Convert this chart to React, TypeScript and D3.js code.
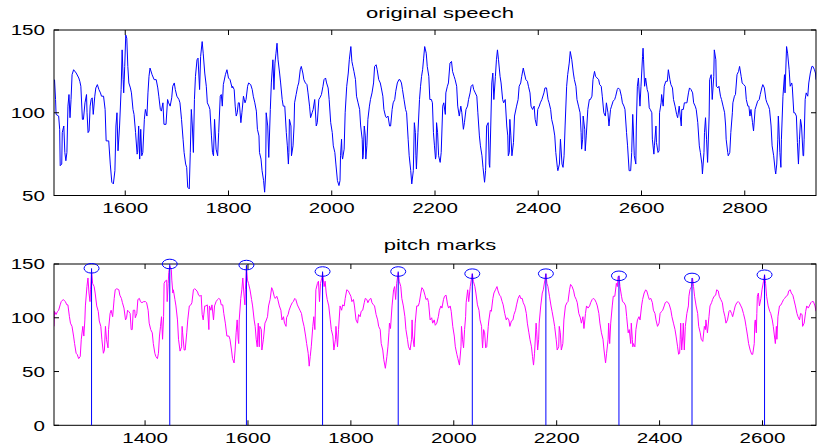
import React from 'react';
import * as d3 from 'd3';

// top panel: original speech (sample index, amplitude)
const speechT = [
  1463, 1465, 1466, 1471, 1473, 1474, 1477, 1478, 1481, 1483, 1485, 1487, 1489, 1491, 1493, 1495, 1497, 1500, 1505, 1510,
  1512, 1514, 1517, 1519, 1522, 1525, 1526, 1528, 1530, 1532, 1534, 1536, 1538, 1541, 1543, 1546, 1549, 1552, 1554, 1558,
  1561, 1563, 1568, 1571, 1574, 1577, 1580, 1582, 1584, 1586, 1589, 1592, 1594, 1596, 1597, 1599, 1601, 1603, 1605, 1607,
  1610, 1612, 1615, 1617, 1620, 1623, 1624, 1626, 1628, 1630, 1632, 1634, 1637, 1639, 1642, 1644, 1646, 1648, 1652, 1656,
  1660, 1663, 1665, 1668, 1670, 1673, 1675, 1679, 1682, 1684, 1687, 1690, 1692, 1695, 1697, 1700, 1704, 1706, 1709, 1712,
  1714, 1717, 1719, 1721, 1724, 1726, 1728, 1730, 1732, 1734, 1736, 1739, 1741, 1744, 1746, 1749, 1751, 1754, 1757, 1759,
  1762, 1764, 1767, 1769, 1771, 1773, 1776, 1779, 1781, 1784, 1786, 1788, 1790, 1794, 1797, 1800,
  1803, 1807, 1808, 1811, 1813, 1815, 1817, 1819, 1821, 1824, 1826, 1829, 1832, 1834, 1837, 1839, 1843, 1846, 1848, 1851,
  1854, 1856, 1859, 1860, 1863, 1865, 1868, 1870, 1872, 1873, 1876, 1878, 1881, 1883, 1886, 1887, 1888, 1890, 1892, 1894,
  1896, 1899, 1901, 1904, 1906, 1909, 1912, 1914, 1916, 1917, 1918, 1921, 1922, 1925, 1927, 1928, 1931, 1934, 1936, 1939,
  1941, 1944, 1946, 1949, 1952, 1954, 1957, 1959, 1962, 1964, 1967, 1970, 1972, 1975, 1977, 1980, 1983, 1985, 1988, 1990,
  1993, 1995, 1998, 2001, 2003, 2006, 2008, 2011, 2014, 2016, 2017, 2019, 2020, 2021, 2024, 2026, 2029, 2032, 2034, 2037,
  2039, 2041, 2043, 2046, 2048, 2051, 2054, 2056, 2059, 2060, 2061, 2063, 2065, 2066, 2068, 2070, 2073, 2075, 2078, 2081,
  2083, 2086, 2088, 2091, 2094, 2096, 2099, 2101, 2104, 2106, 2109, 2112, 2114, 2117, 2119, 2122, 2124, 2127, 2130, 2132,
  2135, 2137, 2140, 2143, 2145, 2148, 2150, 2153, 2155, 2158, 2160, 2162, 2163, 2164, 2167, 2170, 2172, 2174, 2176, 2178,
  2180, 2183, 2185, 2188,
  2190, 2193, 2195, 2197, 2199, 2201, 2202, 2203, 2205, 2207, 2210, 2212, 2215, 2217, 2220, 2221, 2224, 2226, 2229, 2232,
  2234, 2237, 2239, 2242, 2244, 2247, 2250, 2252, 2255, 2257, 2260, 2263, 2265, 2268, 2270, 2273, 2275, 2278, 2281, 2283,
  2286, 2288, 2291, 2293, 2296, 2298, 2300, 2303, 2305, 2306, 2308, 2310, 2312, 2314, 2317, 2319, 2321, 2323, 2326, 2328,
  2331, 2333, 2336, 2339, 2341, 2342, 2344, 2345, 2347, 2349, 2352, 2354, 2358, 2361, 2363, 2366, 2368, 2371, 2373, 2376,
  2379, 2381, 2384, 2386, 2389, 2392, 2394, 2397, 2399, 2402, 2404, 2407, 2411, 2413, 2416, 2419, 2421, 2424, 2426, 2429,
  2432, 2434, 2437, 2438, 2441, 2443, 2446, 2448, 2450, 2452, 2455, 2457, 2460, 2462, 2465, 2468, 2470, 2473, 2475, 2478,
  2481, 2483, 2484, 2486, 2487, 2490, 2491, 2493, 2496, 2499, 2501, 2504, 2506, 2509, 2511, 2514, 2517, 2519, 2522, 2524,
  2527, 2530, 2532, 2535, 2537, 2540, 2542, 2545, 2548, 2550, 2553, 2555, 2558, 2561, 2563, 2566, 2568, 2571, 2573, 2576,
  2579, 2581, 2583, 2584, 2586, 2589, 2590, 2592, 2594, 2597, 2599, 2602, 2603, 2604, 2606, 2608, 2611, 2613, 2615, 2617,
  2620, 2621, 2624, 2625, 2628, 2629, 2632, 2634, 2635, 2638, 2639, 2642, 2644, 2647, 2650, 2652, 2655, 2657, 2660, 2662,
  2665, 2668, 2670, 2673, 2675, 2677, 2678, 2681, 2683, 2686, 2688, 2691, 2693, 2696, 2699, 2701, 2704, 2706, 2709, 2712,
  2714, 2717, 2718, 2721, 2722, 2724, 2726, 2728, 2731, 2732, 2735, 2737, 2740, 2741, 2744, 2745, 2748, 2750, 2753, 2755,
  2758, 2761, 2763, 2764, 2767, 2768, 2771, 2773, 2776, 2777, 2780, 2782, 2785, 2788, 2790, 2793, 2795, 2798, 2801, 2803,
  2806, 2808, 2810, 2812, 2815, 2817, 2820, 2822, 2825, 2828, 2830, 2833, 2835, 2838, 2841, 2843, 2846, 2848, 2851, 2853,
  2856, 2859, 2860, 2862, 2864, 2865, 2866, 2868, 2870, 2871, 2874, 2877, 2878, 2881, 2883, 2886, 2888, 2891, 2892, 2895,
  2897, 2900, 2902, 2904, 2906, 2908, 2910, 2913, 2914, 2915, 2917, 2919, 2922, 2924, 2927, 2930, 2932, 2935, 2937, 2938,
];
const speechV = [
  120, 108, 99, 98, 90, 68, 69, 88, 92, 76, 71, 76, 104, 111, 97, 108, 123, 126, 124, 121,
  119, 116, 96, 96, 106, 111, 100, 88, 89, 104, 108, 109, 99, 110, 115, 117, 114, 112, 110, 110,
  102, 83, 83, 69, 58, 57, 65, 92, 100, 77, 92, 114, 138, 120, 112, 128, 147, 145, 128, 118,
  115, 112, 102, 99, 88, 75, 76, 92, 72, 90, 74, 76, 96, 102, 98, 112, 122, 127, 123, 120,
  120, 115, 110, 102, 101, 106, 93, 93, 108, 106, 104, 109, 116, 118, 114, 110, 108, 106, 96, 84,
  76, 69, 67, 55, 54, 76, 102, 92, 76, 108, 122, 132, 133, 114, 134, 143, 136, 124, 116, 106,
  104, 102, 86, 76, 74, 96, 78, 74, 88, 110, 111, 104, 117, 123, 126, 121,
  120, 115, 116, 114, 104, 98, 100, 106, 106, 94, 100, 110, 106, 108, 116, 118, 117, 114, 110, 106,
  101, 90, 86, 76, 72, 65, 59, 52, 63, 100, 92, 73, 102, 118, 132, 124, 114, 130, 136, 142,
  132, 124, 118, 108, 104, 104, 88, 80, 69, 76, 96, 92, 74, 80, 92, 106, 111, 116, 118, 126,
  128, 124, 120, 118, 117, 112, 104, 97, 100, 102, 108, 92, 94, 108, 109, 111, 116, 120, 121, 118,
  115, 108, 94, 88, 80, 76, 69, 59, 56, 59, 74, 84, 74, 72, 78, 100, 116, 124, 132, 140,
  131, 128, 125, 120, 110, 106, 102, 92, 84, 72, 74, 92, 86, 72, 80, 96, 104, 108, 112, 118,
  128, 129, 126, 120, 118, 115, 110, 102, 98, 97, 98, 92, 92, 102, 106, 108, 113, 118, 120, 120,
  118, 114, 108, 102, 100, 84, 74, 65, 57, 65, 94, 88, 74, 66, 88, 108, 116, 122, 126, 133,
  140, 136, 128, 122,
  108, 108, 106, 88, 80, 72, 74, 94, 88, 74, 70, 76, 104, 106, 99, 112, 116, 118, 130, 131,
  125, 122, 120, 116, 104, 98, 104, 100, 90, 94, 102, 104, 108, 112, 116, 117, 114, 112, 110, 100,
  86, 80, 74, 67, 58, 65, 92, 94, 69, 67, 92, 118, 124, 108, 122, 132, 138, 132, 122, 118,
  108, 106, 108, 92, 86, 74, 76, 96, 86, 74, 82, 98, 104, 108, 116, 118, 122, 127, 124, 120,
  119, 116, 112, 104, 102, 104, 96, 92, 102, 104, 106, 108, 112, 115, 115, 108, 106, 102, 96, 92,
  86, 76, 67, 65, 69, 84, 69, 67, 74, 92, 116, 123, 130, 137, 132, 124, 120, 116, 108, 104,
  100, 88, 78, 84, 98, 90, 77, 86, 102, 108, 108, 110, 120, 125, 122, 121, 120, 117, 116, 110,
  100, 98, 106, 100, 92, 102, 104, 107, 108, 110, 114, 115, 114, 110, 106, 104, 102, 88, 80, 65,
  65, 76, 99, 92, 74, 69, 92, 116, 121, 104, 116, 134, 139, 132, 116, 121, 114, 112, 103, 102,
  100, 84, 75, 80, 92, 82, 76, 77, 100, 106, 111, 104, 116, 119, 119, 126, 120, 117, 115, 108,
  104, 99, 97, 104, 98, 92, 102, 102, 106, 106, 106, 112, 115, 114, 112, 106, 104, 102, 94, 80,
  76, 69, 63, 76, 88, 97, 84, 70, 98, 120, 123, 108, 122, 138, 132, 116, 115, 116, 110, 108,
  104, 100, 92, 84, 76, 74, 76, 88, 100, 106, 110, 111, 123, 125, 128, 122, 118, 117, 116, 108,
  104, 104, 98, 102, 94, 89, 102, 104, 107, 108, 111, 115, 117, 115, 108, 106, 104, 102, 92, 80,
  74, 65, 63, 69, 84, 98, 92, 76, 67, 84, 110, 123, 112, 140, 136, 126, 116, 118, 116, 100,
  100, 98, 82, 69, 84, 96, 92, 74, 74, 84, 108, 112, 110, 118, 124, 128, 128, 126, 124, 120,
];

// bottom panel: pitch marks signal
const pitchT = [
  1223, 1224, 1227, 1230, 1232, 1235, 1237, 1241, 1245, 1248, 1250, 1253, 1255, 1258, 1261, 1263, 1266, 1268, 1271, 1274,
  1276, 1279, 1281, 1283, 1284, 1287, 1289, 1291, 1293, 1294, 1296, 1298, 1301, 1303, 1306, 1309, 1311, 1314, 1316, 1319,
  1321, 1323, 1325, 1328, 1329, 1332, 1334, 1337, 1340, 1342, 1345, 1349, 1351, 1354, 1356, 1359, 1362, 1364, 1366, 1368,
  1371, 1373, 1375, 1377, 1380, 1381, 1384, 1386, 1389, 1391, 1394, 1397, 1401, 1403, 1406, 1408, 1411, 1414, 1416, 1419,
  1421, 1424, 1426, 1428, 1430, 1432, 1434, 1436, 1437, 1439, 1442, 1443, 1445, 1446, 1448, 1451, 1452, 1454, 1455, 1458,
  1460, 1463, 1465, 1468, 1471, 1472, 1473, 1476, 1478, 1481, 1483, 1486, 1489, 1491, 1494, 1496, 1499, 1502, 1504, 1507,
  1509, 1511, 1513, 1516, 1518, 1521, 1524, 1525, 1528, 1530, 1533, 1535, 1538, 1541, 1543, 1546, 1548, 1551, 1553, 1556,
  1559, 1563,
  1565, 1568, 1570, 1573, 1575, 1577, 1579, 1581, 1582, 1583, 1586, 1588, 1590, 1592, 1594, 1595, 1597, 1599, 1601, 1604,
  1607, 1609, 1612, 1614, 1616, 1618, 1620, 1622, 1623, 1626, 1627, 1630, 1633, 1635, 1638, 1640, 1643, 1646, 1648, 1651,
  1653, 1656, 1658, 1661, 1664, 1666, 1669, 1671, 1674, 1675, 1678, 1680, 1683, 1686, 1688, 1691, 1693, 1696, 1699, 1701,
  1704, 1706, 1709, 1712, 1714, 1717, 1719, 1721, 1723, 1726, 1728, 1730, 1732, 1735, 1737, 1739, 1741, 1744, 1745, 1748,
  1750, 1752, 1754, 1757, 1760, 1762, 1765, 1767, 1770, 1771, 1774, 1776, 1779, 1782, 1784, 1787, 1789, 1792, 1795, 1797,
  1800, 1802, 1805, 1807, 1810, 1813, 1815, 1818, 1820, 1823, 1826, 1828, 1831, 1833, 1836, 1839, 1841, 1844, 1846, 1849,
  1852, 1854, 1857, 1859, 1862, 1864, 1867, 1870, 1872, 1874, 1875, 1877, 1880, 1883, 1885, 1887, 1889, 1892, 1894, 1897,
  1899, 1902, 1905, 1907, 1910, 1912, 1915, 1918, 1919, 1920, 1923, 1925, 1928, 1931, 1933, 1936, 1938, 1941, 1944, 1946,
  1949, 1951,
  1954, 1957, 1959, 1962, 1964, 1967, 1970, 1972, 1975, 1977, 1980, 1982, 1985, 1988, 1990, 1993, 1995, 1998, 2001, 2003,
  2006, 2008, 2011, 2014, 2015, 2017, 2019, 2021, 2023, 2024, 2027, 2029, 2032, 2034, 2036, 2038, 2041, 2043, 2046, 2049,
  2051, 2054, 2055, 2056, 2058, 2060, 2062, 2064, 2067, 2068, 2071, 2073, 2076, 2078, 2081, 2084, 2086, 2089, 2091, 2094,
  2096, 2099, 2102, 2104, 2107, 2109, 2112, 2115, 2117, 2120, 2122, 2125, 2128, 2130, 2133, 2135, 2138, 2141, 2143, 2146,
  2148, 2151, 2153, 2155, 2157, 2160, 2161, 2163, 2165, 2166, 2169, 2172, 2174, 2177, 2179, 2181, 2183, 2186, 2189, 2191,
  2194, 2196, 2199, 2201, 2204, 2205, 2207, 2209, 2212, 2214, 2217, 2220, 2222, 2225, 2227, 2230, 2233, 2235, 2238, 2240,
  2243, 2246, 2248, 2251, 2253, 2256, 2258, 2261, 2264, 2266, 2269, 2271, 2274, 2277, 2279, 2282, 2284, 2287, 2290, 2292,
  2295, 2297, 2300, 2301, 2303, 2305, 2308, 2310, 2313, 2316, 2318, 2319, 2321, 2323, 2326, 2328, 2331, 2334, 2336, 2339,
  2341, 2344, 2345, 2347, 2348, 2349, 2352, 2354, 2357, 2360, 2362, 2365, 2367, 2370, 2373, 2375, 2378, 2380, 2383, 2386,
  2388, 2391, 2393, 2396, 2399, 2401, 2404, 2406, 2409, 2411, 2414, 2417, 2419, 2422, 2424, 2427, 2430, 2432, 2435, 2437,
  2439, 2440, 2441, 2443, 2445, 2446, 2448, 2450, 2453, 2456, 2457, 2459, 2462, 2464, 2466, 2468, 2471, 2474, 2476, 2479,
  2481, 2484, 2487, 2489, 2490, 2493, 2496, 2498, 2501, 2503, 2506, 2509, 2511, 2514, 2516, 2519, 2522, 2524, 2527, 2529,
  2532, 2535, 2537, 2540, 2542, 2545, 2547, 2550, 2553, 2555, 2558, 2560, 2563, 2566, 2568, 2571, 2573, 2576, 2579, 2581,
  2584, 2585, 2586, 2588, 2589, 2590, 2592, 2594, 2597, 2599, 2602, 2604, 2606, 2608, 2611, 2614, 2616, 2619, 2621, 2624,
  2625, 2627, 2628, 2630, 2633, 2636, 2638, 2641, 2643, 2646, 2649, 2651, 2654, 2656, 2659, 2661, 2664, 2667, 2669, 2672,
  2674, 2677, 2678, 2681, 2684, 2686, 2689, 2691, 2694, 2696, 2699, 2702, 2704,
];
const pitchV = [
  92, 106, 103, 106, 107, 112, 115, 117, 115, 112, 112, 101, 95, 92, 83, 76, 67, 66, 62, 64,
  80, 92, 83, 98, 111, 129, 137, 123, 115, 126, 144, 132, 129, 123, 111, 106, 97, 92, 80, 67,
  70, 92, 80, 72, 89, 104, 107, 101, 118, 126, 127, 126, 121, 118, 114, 109, 98, 100, 107, 106,
  104, 89, 89, 107, 107, 100, 104, 117, 118, 115, 114, 115, 115, 114, 107, 95, 89, 86, 76, 67,
  64, 62, 67, 83, 92, 101, 80, 101, 132, 134, 135, 115, 132, 142, 148, 145, 135, 123, 126, 117,
  111, 98, 80, 69, 73, 92, 86, 70, 70, 86, 98, 111, 112, 114, 126, 127, 126, 124, 121, 120,
  121, 103, 98, 111, 111, 112, 89, 111, 107, 112, 98, 111, 115, 117, 118, 117, 112, 112, 104, 95,
  83, 83,
  80, 70, 62, 58, 70, 86, 98, 80, 76, 98, 118, 126, 137, 123, 112, 126, 148, 135, 132, 126,
  117, 111, 98, 92, 80, 73, 95, 73, 92, 89, 70, 80, 95, 97, 101, 111, 117, 128, 126, 120,
  118, 120, 117, 111, 107, 98, 101, 95, 92, 100, 103, 107, 111, 114, 115, 118, 117, 112, 109, 107,
  104, 98, 92, 83, 76, 67, 55, 64, 73, 92, 101, 89, 126, 132, 134, 115, 132, 138, 142, 129,
  134, 123, 117, 111, 98, 89, 83, 70, 80, 92, 73, 89, 111, 107, 112, 111, 118, 126, 125, 123,
  120, 115, 117, 111, 98, 95, 103, 101, 106, 107, 114, 118, 117, 114, 117, 118, 114, 112, 111, 103,
  98, 92, 89, 76, 70, 61, 53, 64, 73, 86, 95, 90, 111, 126, 129, 117, 132, 142, 134, 129,
  118, 111, 101, 89, 80, 73, 70, 80, 98, 83, 73, 95, 111, 111, 114, 123, 128, 126, 121, 117,
  118, 114,
  98, 100, 95, 98, 93, 95, 101, 107, 111, 109, 117, 120, 121, 112, 109, 111, 106, 92, 83, 73,
  66, 62, 56, 73, 92, 80, 72, 89, 101, 114, 126, 115, 129, 135, 141, 134, 129, 123, 112, 107,
  98, 92, 80, 72, 89, 86, 72, 73, 92, 97, 107, 106, 118, 123, 126, 129, 125, 121, 120, 115,
  112, 104, 98, 100, 98, 92, 97, 98, 103, 107, 112, 118, 121, 118, 118, 114, 111, 104, 95, 86,
  80, 73, 64, 56, 67, 95, 89, 70, 80, 95, 111, 123, 126, 135, 141, 132, 129, 120, 111, 106,
  98, 92, 80, 70, 73, 92, 86, 70, 76, 98, 111, 114, 115, 126, 131, 129, 125, 120, 117, 114,
  104, 100, 95, 101, 90, 104, 111, 109, 111, 114, 117, 118, 117, 114, 111, 104, 95, 86, 80, 70,
  58, 67, 80, 95, 76, 95, 111, 120, 120, 132, 129, 138, 139, 129, 120, 115, 114, 111, 101, 86,
  89, 76, 95, 80, 73, 76, 73, 89, 98, 101, 98, 111, 117, 123, 126, 125, 120, 117, 118, 114,
  107, 104, 98, 92, 95, 104, 106, 107, 111, 114, 115, 114, 112, 107, 101, 95, 89, 83, 73, 66,
  67, 80, 95, 70, 83, 95, 70, 92, 104, 111, 120, 126, 129, 137, 129, 120, 111, 104, 92, 86,
  80, 78, 92, 89, 98, 86, 101, 111, 114, 117, 120, 121, 126, 125, 120, 117, 114, 107, 101, 95,
  98, 106, 107, 104, 101, 107, 111, 114, 115, 114, 111, 109, 104, 98, 92, 83, 76, 70, 66, 66,
  76, 95, 98, 86, 104, 120, 123, 111, 118, 126, 134, 140, 132, 120, 111, 106, 104, 98, 92, 80,
  76, 92, 80, 101, 111, 112, 114, 117, 118, 120, 121, 125, 126, 123, 121, 117, 111, 104, 101, 98,
  104, 103, 92, 95, 106, 111, 109, 111, 114, 115, 115, 111, 106,
];

// detected pitch marks
const markT = [1296, 1448, 1597, 1745, 1892, 2036, 2179, 2321, 2463, 2604];
const markV = [146, 150, 149, 143, 143, 141, 141, 139, 137, 140];

const topXTicks = [1600, 1800, 2000, 2200, 2400, 2600, 2800];
const topYTicks = [50, 100, 150];
const botXTicks = [1400, 1600, 1800, 2000, 2200, 2400, 2600];
const botYTicks = [0, 50, 100, 150];

const W = 817;
const H = 446;
const FONT = '"Liberation Sans", Arial, Helvetica, sans-serif';
const STRETCH = 1.47; // the original figure is stretched sideways
const TICK = 5;

function Label({ x, y, anchor, size, children }) {
  return (
    <text
      transform={`translate(${x},${y}) scale(${STRETCH},1)`}
      textAnchor={anchor}
      fontFamily={FONT}
      fontSize={size}
      fill="#000"
    >
      {children}
    </text>
  );
}

function Panel({ id, title, titleY, xDomain, yDomain, top, bottom, xTicks, yTicks, ts, vs, color, marks }) {
  const left = 54;
  const right = 816;
  const x = d3.scaleLinear().domain(xDomain).range([left, right]);
  const y = d3.scaleLinear().domain(yDomain).range([bottom, top]);
  const line = d3.line<number>()
    .x((_, i) => x(ts[i]))
    .y(d => y(d));

  return (
    <g>
      <defs>
        <clipPath id={id}>
          <rect x={left} y={top} width={right - left} height={bottom - top} />
        </clipPath>
      </defs>
      <Label x={440} y={titleY} anchor="middle" size={15}>{title}</Label>
      <g clipPath={`url(#${id})`}>
        <path d={line(vs) || ''} fill="none" stroke={color} strokeWidth={1} />
      </g>
      <rect x={left} y={top} width={right - left} height={bottom - top} fill="none" stroke="#000" strokeWidth={1} />
      {xTicks.map(t => (
        <g key={'x' + t}>
          <line x1={x(t)} x2={x(t)} y1={bottom} y2={bottom - TICK} stroke="#000" />
          <line x1={x(t)} x2={x(t)} y1={top} y2={top + TICK} stroke="#000" />
          <Label x={x(t)} y={bottom + 17.5} anchor="middle" size={14}>{t}</Label>
        </g>
      ))}
      {yTicks.map(t => (
        <g key={'y' + t}>
          <line x1={left} x2={left + TICK} y1={y(t)} y2={y(t)} stroke="#000" />
          <line x1={right} x2={right - TICK} y1={y(t)} y2={y(t)} stroke="#000" />
          <Label x={45} y={y(t) + 5.2} anchor="end" size={14}>{t}</Label>
        </g>
      ))}
      {marks && marks.t.map((t, i) => (
        <g key={t}>
          <line x1={x(t)} x2={x(t)} y1={y(0)} y2={y(marks.v[i])} stroke="#0000ff" strokeWidth={1} />
          <ellipse cx={x(t)} cy={y(marks.v[i])} rx={7.5} ry={4.8} fill="none" stroke="#0000ff" strokeWidth={1} />
        </g>
      ))}
    </g>
  );
}

export default function App() {
  return (
    <div style={{ position: 'absolute', left: 0, top: 0, width: W, height: H, background: '#fff' }}>
      <svg width={W} height={H} style={{ display: 'block' }}>
        <rect width={W} height={H} fill="#fff" />
        <Panel
          id="clipTop"
          title="original speech"
          titleY={18.3}
          xDomain={[1462, 2938]}
          yDomain={[50, 150]}
          top={30}
          bottom={195.5}
          xTicks={topXTicks}
          yTicks={topYTicks}
          ts={speechT}
          vs={speechV}
          color="#0000ff"
        />
        <Panel
          id="clipBot"
          title="pitch marks"
          titleY={249.7}
          xDomain={[1223, 2704]}
          yDomain={[0, 150]}
          top={264}
          bottom={425.3}
          xTicks={botXTicks}
          yTicks={botYTicks}
          ts={pitchT}
          vs={pitchV}
          color="#ff00ff"
          marks={{ t: markT, v: markV }}
        />
      </svg>
    </div>
  );
}
